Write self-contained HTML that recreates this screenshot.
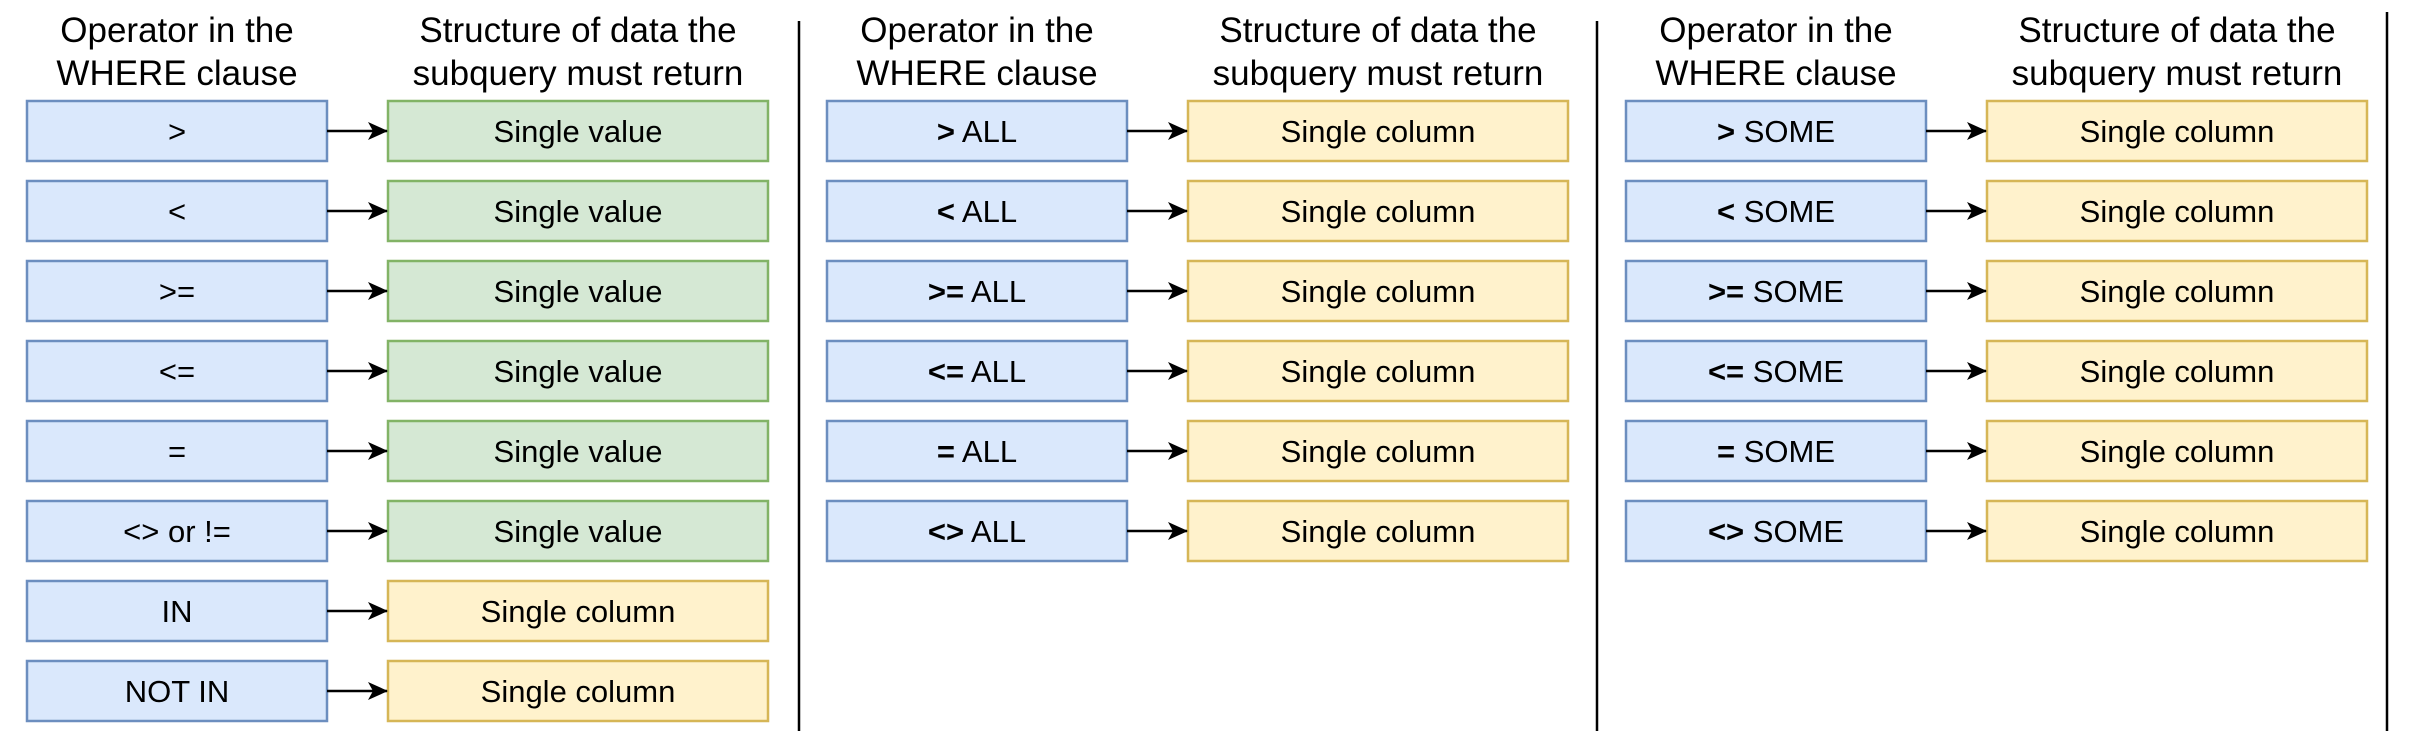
<!DOCTYPE html>
<html><head><meta charset="utf-8"><style>
html,body{margin:0;padding:0;background:#fff;}
svg{display:block;}
text{font-family:"Liberation Sans",Arial,sans-serif;}
</style></head><body>
<svg width="2412" height="744" viewBox="0 0 2412 744" xmlns="http://www.w3.org/2000/svg">
<defs>
<marker id="ar" markerWidth="20" markerHeight="20" refX="19" refY="10" orient="auto" markerUnits="userSpaceOnUse">
<path d="M0,1 L20,10 L0,19 L5,10 Z" fill="#000"/>
</marker>
<g id="hdr">
<text x="177" y="42" font-size="35" text-anchor="middle">Operator in the</text>
<text x="177" y="85" font-size="35" text-anchor="middle">WHERE clause</text>
<text x="578" y="42" font-size="35" text-anchor="middle">Structure of data the</text>
<text x="578" y="85" font-size="35" text-anchor="middle">subquery must return</text>
</g>
</defs>
<g stroke="#000" stroke-width="2.5">
<line x1="799" y1="21" x2="799" y2="731"/>
<line x1="1597" y1="21" x2="1597" y2="731"/>
<line x1="2387" y1="12" x2="2387" y2="731"/>
</g>
<use href="#hdr"/>
<use href="#hdr" transform="translate(800,0)"/>
<use href="#hdr" transform="translate(1599,0)"/>
<g id="rows" font-size="31" text-anchor="middle">
</g>
<script>
const NS="http://www.w3.org/2000/svg";
const g=document.getElementById('rows');
const cols=[
 {off:0,items:[[">",""],["<",""],[">=",""],["<=",""],["=",""],["<> or !=",""],["IN",""],["NOT IN",""]],rt:["v","v","v","v","v","v","c","c"],plain:true},
 {off:800,items:[[">"," ALL"],["<"," ALL"],[">="," ALL"],["<="," ALL"],["="," ALL"],["<>"," ALL"]]},
 {off:1599,items:[[">"," SOME"],["<"," SOME"],[">="," SOME"],["<="," SOME"],["="," SOME"],["<>"," SOME"]]}
];
function el(n,a,t){const e=document.createElementNS(NS,n);for(const k in a)e.setAttribute(k,a[k]);if(t!==undefined)e.textContent=t;g.appendChild(e);return e;}
cols.forEach(c=>{
 c.items.forEach((it,i)=>{
  const y=101+80*i, o=c.off;
  el('rect',{x:27+o,y:y,width:300,height:60,fill:'#dae8fc',stroke:'#6c8ebf','stroke-width':2.5});
  const val=c.rt&&c.rt[i]==='v';
  el('rect',{x:388+o,y:y,width:380,height:60,fill:val?'#d5e8d4':'#fff2cc',stroke:val?'#82b366':'#d6b656','stroke-width':2.5});
  el('line',{x1:327+o,y1:y+30,x2:387+o,y2:y+30,stroke:'#000','stroke-width':2.5,'marker-end':'url(#ar)'});
  const t=el('text',{x:177+o,y:y+41});
  if(c.plain){t.textContent=it[0];}
  else{const b=document.createElementNS(NS,'tspan');b.setAttribute('font-weight','bold');b.textContent=it[0];t.appendChild(b);
   const r=document.createElementNS(NS,'tspan');r.textContent=it[1];t.appendChild(r);}
  el('text',{x:578+o,y:y+41},val?'Single value':'Single column');
 });
});
</script>
</svg>
</body></html>
